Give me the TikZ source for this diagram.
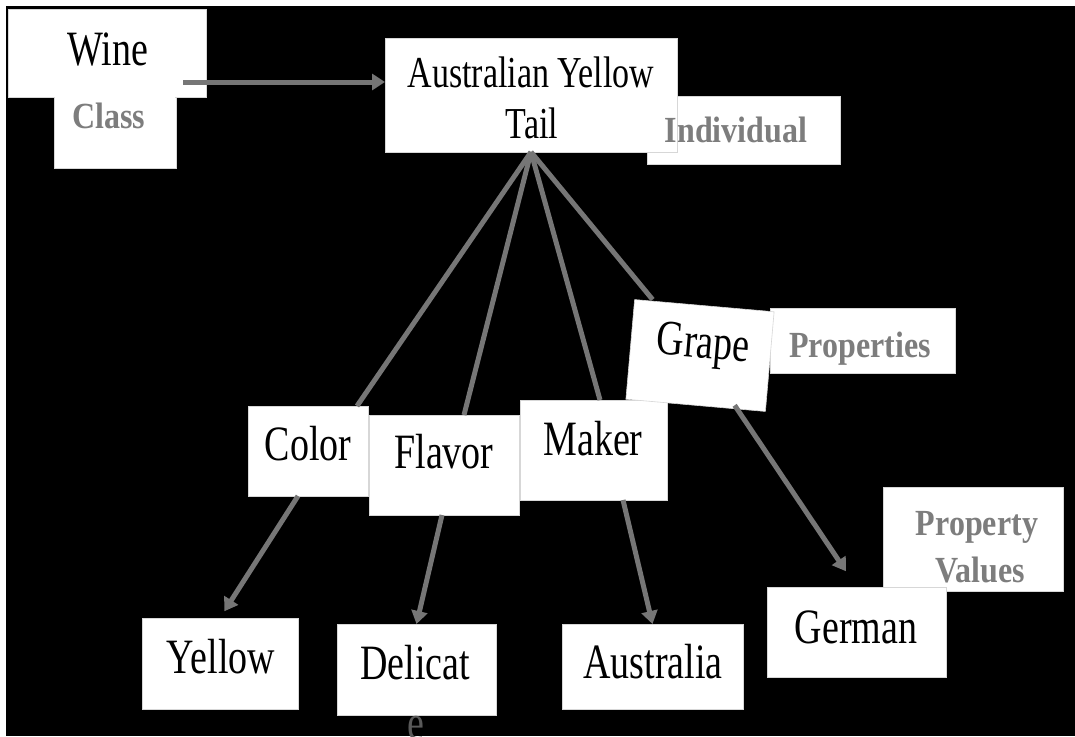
\documentclass[tikz,border=0pt]{standalone}
\usepackage{fontspec}
\setmainfont{Liberation Serif}
\usetikzlibrary{arrows.meta,calc}
\definecolor{linegray}{RGB}{118,118,118}
\definecolor{labelgray}{RGB}{125,125,125}
\definecolor{edgegray}{RGB}{215,215,215}
\newcommand{\tallt}[1]{\scalebox{1}[1.3]{#1}}
\newcommand{\tallg}[1]{\scalebox{1}[1.15]{#1}}
\begin{document}
\begin{tikzpicture}[x=1pt,y=-1pt,
  box/.style={fill=white,draw=edgegray,line width=0.6pt,inner sep=0pt,outer sep=0pt},
  txt/.style={anchor=base,inner sep=0pt,font=\fontsize{38}{40}\selectfont,text=black},
  lbl/.style={anchor=base,inner sep=0pt,font=\bfseries\fontsize{32}{34}\selectfont,text=labelgray},
  conn/.style={draw=linegray,line width=5pt},
  arr/.style={conn,-{Triangle[width=16pt,length=13pt]}}]
\useasboundingbox (0,0) rectangle (1075,736);
\clip (0,0) rectangle (1075,736);
\fill[white] (0,0) rectangle (1075,736);
\fill[black] (6,6) rectangle (1075,736);

% boxes
\node[box,minimum width=122pt,minimum height=71pt] (classbox) at (115,132.5) {};
\node[box,minimum width=198pt,minimum height=88pt] (wine) at (107,53) {};
\fill[white] (55,90) rectangle (175,100);
\node[box,minimum width=193pt,minimum height=68pt] (indbox) at (743.5,130) {};
\node[box,minimum width=292pt,minimum height=114pt] (aus) at (531,95) {};
\node[box,minimum width=120pt,minimum height=90pt] (color) at (308,451) {};
\node[box,minimum width=150pt,minimum height=100pt] (flavor) at (444,465) {};
\node[box,minimum width=147pt,minimum height=100pt] (maker) at (593.5,450) {};
\node[box,minimum width=185pt,minimum height=65pt] (propbox) at (862.5,340.5) {};
\node[box,minimum width=140pt,minimum height=100pt,rotate=-5] (grape) at (700,355.5) {};
\node[box,minimum width=156pt,minimum height=91pt] (yellow) at (220,663.5) {};
\node[box,minimum width=159pt,minimum height=91pt] (delicat) at (416.5,669.5) {};
\node[box,minimum width=181pt,minimum height=85pt] (australia) at (652.5,666.5) {};
\node[box,minimum width=180pt,minimum height=104pt] (pvbox) at (973,539) {};
\node[box,minimum width=179pt,minimum height=90pt] (german) at (856.5,632) {};

% connectors
\draw[arr] ([xshift=-23pt,yshift=-29pt]wine.east) -- ([yshift=13pt]aus.west);
\draw[conn] (aus.south) -- ([xshift=-11pt]color.north east);
\draw[conn] (aus.south) -- ([xshift=20pt]flavor.north);
\draw[conn] (aus.south) -- ([xshift=6.5pt]maker.north);
\draw[conn] (aus.south) -- ([xshift=18pt]grape.north west);
\draw[arr,shorten >=8pt] ([xshift=-10pt]color.south) -- (yellow.north);
\draw[arr] ([xshift=-2pt]flavor.south) -- (delicat.north);
\draw[arr] ([xshift=29.5pt]maker.south) -- (australia.north);
\draw[arr,shorten >=19pt] ([xshift=39pt]grape.south) -- (german.north);

% texts
\node[txt] (twine) at (108,65) {\tallt{Wine}};
\node[lbl] (tclass) at (109,128) {\tallg{Class}};
\node[txt,font=\fontsize{34}{36}\selectfont] (taus1) at (531,87) {\tallt{Australian Yellow}};
\node[txt,font=\fontsize{34}{36}\selectfont] (taus2) at (532,138) {\tallt{Tail}};
\node[lbl] (tind) at (736,142) {\tallg{Individual}};
\node[txt] (tcolor) at (308,460) {\tallt{Color}};
\node[txt] (tflavor) at (444,468) {\tallt{Flavor}};
\node[txt] (tmaker) at (593,455) {\tallt{Maker}};
\node[txt,rotate=-5] (tgrape) at (702,358) {\tallt{Grape}};
\node[lbl] (tprop) at (860,357) {\tallg{Properties}};
\node[txt] (tyellow) at (221,673) {\tallt{Yellow}};
\node[txt] (tdelicat) at (415,679) {\tallt{Delicat}};
\node[txt,text=black!65] (te) at (416,739) {\tallt{e}};
\node[txt] (taustralia) at (653,678) {\tallt{Australia}};
\node[txt] (tgerman) at (856,643) {\tallt{German}};
\node[lbl] (tpv1) at (977,535) {\tallg{Property}};
\node[lbl] (tpv2) at (980,582) {\tallg{Values}};
\end{tikzpicture}
\end{document}
